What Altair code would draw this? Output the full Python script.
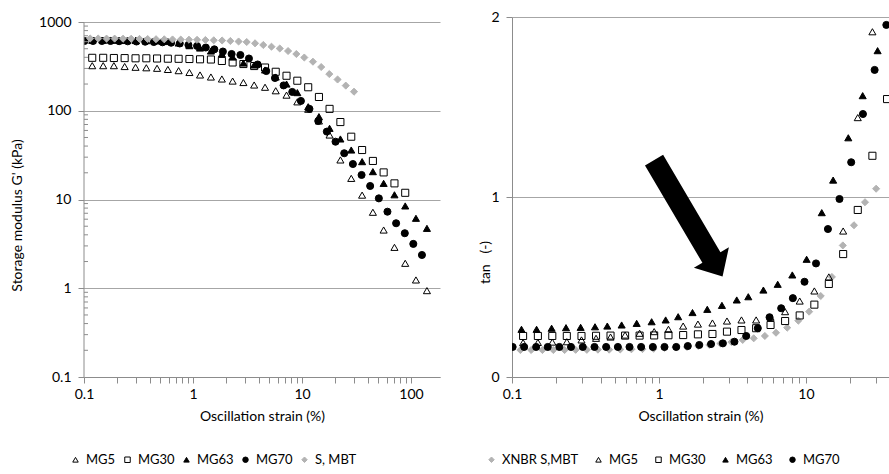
import altair as alt
import pandas as pd

FONT = "Lato"
GRID = "#a6a6a6"
AXIS = "#8c8c8c"
GRAY = "#b3b3b3"

# ---------------- data ----------------
# strain (%) sequences
strain_a = [0.119, 0.150, 0.188, 0.236, 0.297, 0.373, 0.468, 0.588, 0.738, 0.927,
            1.16, 1.46, 1.84, 2.31, 2.90, 3.64, 4.58, 5.74, 7.21, 9.06,
            11.4, 14.3, 17.9, 22.5, 28.3, 35.6, 44.7, 56.1, 70.5, 88.5, 111, 140]
strain_b = [0.101, 0.121, 0.146, 0.175, 0.210, 0.252, 0.303, 0.364, 0.437, 0.525,
            0.630, 0.756, 0.908, 1.09, 1.31, 1.57, 1.88, 2.26, 2.72, 3.26,
            3.92, 4.70, 5.65, 6.78, 8.14, 9.77, 11.7, 14.1, 16.9, 20.3,
            24.4, 29.3, 35.2, 42.2, 50.7, 60.8, 73.0, 87.7, 105, 126]
strain_c = [0.114, 0.135, 0.161, 0.191, 0.228, 0.271, 0.323, 0.384, 0.458, 0.545,
            0.649, 0.772, 0.919, 1.09, 1.30, 1.55, 1.85, 2.20, 2.62, 3.11,
            3.71, 4.41, 5.25, 6.25, 7.45, 8.87, 10.5, 12.6, 15.0, 17.8,
            21.2, 25.2, 30.0]
strain_d = [0.116, 0.147, 0.186, 0.233, 0.293, 0.367, 0.445, 0.557, 0.705, 0.891,
            1.11, 1.35, 1.69, 2.13, 2.68, 3.38, 4.05, 5.13, 6.42, 8.07,
            10.1, 12.8, 15.3, 19.4, 24.3, 30.7]

# storage modulus G' (kPa)
g_mg5 = [322, 322, 322, 315, 309, 305, 301, 292, 283, 270, 253, 240, 228, 216, 208, 195,
         184, 168, 150, 126, 104, 76.7, 53.3, 27.9, 17.3, 11.2, 7.18, 4.53, 2.89, 1.91, 1.24, 0.94]
g_mg30 = [395, 395, 393, 392, 390, 390, 388, 386, 385, 383, 380, 378, 364, 350, 336, 319,
          307, 275, 248, 218, 184, 143, 105, 74.6, 51, 36.1, 27.2, 20.2, 15.2, 11.9]
g_mg63 = [622, 622, 622, 619, 619, 616, 611, 603, 580, 541, 509, 471, 436, 403, 345, 328,
          288, 240, 200, 160, 111, 85.8, 63.4, 48.1, 36.1, 26.7, 20.6, 15.2, 11.3, 8.46, 6.14, 4.73]
g_mg70 = [611, 611, 611, 611, 608, 606, 603, 600, 595, 591, 584, 573, 551, 537, 516, 492,
          465, 436, 425, 388, 332, 280, 234, 193, 163, 129, 105, 76.7, 58.2, 44.8,
          33.2, 25.1, 18.9, 14.2, 10.3, 7.29, 5.40, 4.17, 3.16, 2.37]
g_smbt = [652, 652, 650, 650, 648, 648, 645, 643, 640, 638, 636, 634, 632, 630, 627, 622,
          619, 611, 603, 595, 575, 551, 527, 503, 471, 436, 398, 357, 311, 259, 225, 192, 164]

# loss factor tan (-)
tan_xnbr = [0.150, 0.150, 0.150, 0.150, 0.150, 0.151, 0.151, 0.152, 0.152, 0.153, 0.154, 0.155, 0.157,
            0.161, 0.164, 0.167, 0.172, 0.178, 0.186, 0.194, 0.206, 0.215, 0.228, 0.246, 0.274,
            0.313, 0.363, 0.450, 0.556, 0.731, 0.843, 0.971, 1.046]
tan_mg5 = [0.191, 0.192, 0.194, 0.196, 0.206, 0.215, 0.222, 0.233, 0.243, 0.252, 0.265, 0.283,
           0.294, 0.300, 0.311, 0.317, 0.317, 0.332, 0.363, 0.422, 0.478, 0.556, 0.811, 1.441, 1.918]
tan_mg30 = [0.228, 0.228, 0.228, 0.228, 0.228, 0.229, 0.230, 0.230, 0.230, 0.231, 0.232, 0.233,
            0.237, 0.239, 0.252, 0.261, 0.271, 0.289, 0.311, 0.342, 0.402, 0.517, 0.683, 0.928,
            1.229, 1.544]
tan_mg63 = [0.265, 0.265, 0.271, 0.274, 0.276, 0.279, 0.283, 0.289, 0.298, 0.307, 0.317, 0.335,
            0.358, 0.376, 0.398, 0.428, 0.446, 0.483, 0.515, 0.567, 0.654, 0.913, 1.094, 1.329,
            1.563, 1.813]
tan_mg70 = [0.167, 0.167, 0.167, 0.167, 0.167, 0.167, 0.167, 0.167, 0.167, 0.167, 0.167, 0.167,
            0.167, 0.167, 0.167, 0.172, 0.178, 0.183, 0.187, 0.196, 0.228, 0.271, 0.332, 0.382,
            0.438, 0.529, 0.631, 0.822, 0.989, 1.193, 1.461, 1.706, 1.956]

left_series = ["MG5", "MG30", "MG63", "MG70", "S, MBT"]
right_series = ["XNBR S,MBT", "MG5", "MG30", "MG63", "MG70"]

x_ticks_left = [0.1, 0.2, 0.3, 0.4, 0.5, 0.6, 0.7, 0.8, 0.9, 1, 2, 3, 4, 5, 6, 7, 8, 9,
                10, 20, 30, 40, 50, 60, 70, 80, 90, 100]
x_ticks_right = [0.1, 0.2, 0.3, 0.4, 0.5, 0.6, 0.7, 0.8, 0.9, 1, 2, 3, 4, 5, 6, 7, 8, 9,
                 10, 20, 30]
y_major_left = [0.1, 1, 10, 100, 1000]
y_minor_left = [0.2, 0.3, 0.4, 0.5, 0.6, 0.7, 0.8, 0.9, 2, 3, 4, 5, 6, 7, 8, 9,
                20, 30, 40, 50, 60, 70, 80, 90, 200, 300, 400, 500, 600, 700, 800, 900]
y_major_right = [0, 1, 2]

arrow_strain = [1.55]
arrow_tan = [0.894]

# ---------------- tables ----------------
rows = []
for name, xs, ys in [("MG5", strain_a, g_mg5), ("MG30", strain_a, g_mg30),
                     ("MG63", strain_a, g_mg63), ("MG70", strain_b, g_mg70),
                     ("S, MBT", strain_c, g_smbt)]:
    for x, y in zip(xs, ys):
        rows.append({"strain": x, "G": y, "series": name})
df_left = pd.DataFrame(rows)

rows = []
for name, xs, ys in [("XNBR S,MBT", strain_c, tan_xnbr), ("MG5", strain_a, tan_mg5),
                     ("MG30", strain_a, tan_mg30), ("MG63", strain_d, tan_mg63),
                     ("MG70", strain_b, tan_mg70)]:
    for x, y in zip(xs, ys):
        rows.append({"strain": x, "tan": y, "sample": name})
df_right = pd.DataFrame(rows)

df_minor = pd.DataFrame({"v": y_minor_left})
df_dom = pd.DataFrame({"lo": [y_major_left[0]], "hi": [y_major_left[-1]]})
df_arrow = pd.DataFrame({"strain": arrow_strain, "tan": arrow_tan})

shape_of = {"MG5": "triangle-up", "MG30": "square", "MG63": "triangle-up",
            "MG70": "circle", "S, MBT": "diamond", "XNBR S,MBT": "diamond"}
fill_of = {"MG5": "transparent", "MG30": "transparent", "MG63": "#000000",
           "MG70": "#000000", "S, MBT": GRAY, "XNBR S,MBT": GRAY}
stroke_of = {"MG5": "#000000", "MG30": "#000000", "MG63": "#000000",
             "MG70": "#000000", "S, MBT": GRAY, "XNBR S,MBT": GRAY}


def legend(x, y, pad):
    return alt.Legend(orient="none", legendX=x, legendY=y, direction="horizontal",
                      columns=5, title=None, symbolSize=30, symbolStrokeWidth=1,
                      labelFont=FONT, labelFontSize=13, labelColor="#000000",
                      labelOffset=4, columnPadding=pad, padding=0)


def series_enc(field, order, lg):
    return dict(
        shape=alt.Shape(f"{field}:N", scale=alt.Scale(domain=order, range=[shape_of[s] for s in order]), legend=lg),
        fill=alt.Fill(f"{field}:N", scale=alt.Scale(domain=order, range=[fill_of[s] for s in order]), legend=lg),
        stroke=alt.Stroke(f"{field}:N", scale=alt.Scale(domain=order, range=[stroke_of[s] for s in order]), legend=lg),
    )


LABEL_EXPR_L = "(datum.value == 0.1 || datum.value == 1 || datum.value == 10 || datum.value == 100) ? datum.label : ''"
LABEL_EXPR_R = "(datum.value == 0.1 || datum.value == 1 || datum.value == 10) ? datum.label : ''"

# ---------------- left panel ----------------
xs_left = alt.Scale(type="log", domain=[0.1, 184.5], nice=False)
ys_left = alt.Scale(type="log", domain=[0.1, 1138.7], nice=False)

x_axis_left = alt.Axis(values=x_ticks_left, format="~g", labelExpr=LABEL_EXPR_L, grid=False,
                       tickSize=6, tickColor=AXIS, domainColor=AXIS, labelPadding=4,
                       labelOverlap=False, labelFlush=False, title="Oscillation strain (%)",
                       titlePadding=8)
y_axis_left = alt.Axis(values=y_major_left, format="~g", grid=True, gridColor=GRID, domain=False,
                       tickSize=6, tickColor=AXIS, labelPadding=7, labelOverlap=False,
                       title="Storage modulus G' (kPa)", titleAngle=270, titleX=-67, titleY=198,
                       titleAlign="center", titleBaseline="middle")

pts_left = alt.Chart(df_left).mark_point(opacity=1, size=50, strokeWidth=1, clip=True).encode(
    x=alt.X("strain:Q", scale=xs_left, axis=x_axis_left),
    y=alt.Y("G:Q", scale=ys_left, axis=y_axis_left),
    **series_enc("series", left_series, legend(-15, 436, 5)),
)
minor_left = alt.Chart(df_minor).mark_rule(color=AXIS, strokeWidth=1).encode(
    x=alt.value(0), x2=alt.value(4), y=alt.Y("v:Q", scale=ys_left, axis=y_axis_left))
ydom_left = alt.Chart(df_dom).mark_rule(color=AXIS, strokeWidth=1).encode(
    x=alt.value(0), y=alt.Y("lo:Q", scale=ys_left, axis=y_axis_left), y2="hi:Q")

left = alt.layer(pts_left, minor_left, ydom_left).properties(width=356, height=360)

# ---------------- right panel ----------------
xs_right = alt.Scale(type="log", domain=[0.1, 36.7], nice=False)
ys_right = alt.Scale(domain=[0, 2], nice=False, zero=False)

x_axis_right = alt.Axis(values=x_ticks_right, format="~g", labelExpr=LABEL_EXPR_R, grid=False,
                        tickSize=6, tickColor=AXIS, domainColor=AXIS, labelPadding=4,
                        labelOverlap=False, labelFlush=False, title="Oscillation strain (%)",
                        titlePadding=8)
y_axis_right = alt.Axis(values=y_major_right, format="~g", grid=True, gridColor=GRID,
                        domainColor=AXIS, tickSize=6, tickColor=AXIS, labelPadding=7,
                        title="tan\u00a0\u00a0\u00a0(-)", titleAngle=270, titleX=-27, titleY=245,
                        titleAlign="center", titleBaseline="middle")

pts_right = alt.Chart(df_right).mark_point(opacity=1, size=50, strokeWidth=1, clip=True).encode(
    x=alt.X("strain:Q", scale=xs_right, axis=x_axis_right),
    y=alt.Y("tan:Q", scale=ys_right, axis=y_axis_right),
    **series_enc("sample", right_series, legend(-27, 436, 13)),
)

ARROW = ("M -0.656 -0.792 L -0.373 -0.958 L 0.523 0.564 L 0.655 0.486 "
         "L 0.556 0.944 L 0.108 0.808 L 0.241 0.730 Z")
arrow = alt.Chart(df_arrow).mark_point(shape=ARROW, size=16384, filled=True, color="#000000",
                                       opacity=1, strokeWidth=0).encode(
    x=alt.X("strain:Q", scale=xs_right, axis=x_axis_right),
    y=alt.Y("tan:Q", scale=ys_right, axis=y_axis_right))

right = alt.layer(pts_right, arrow).properties(width=377, height=360)

chart = alt.hconcat(left, right, spacing=72, bounds="flush").resolve_scale(
    shape="independent", fill="independent", stroke="independent"
).resolve_legend(shape="independent", fill="independent", stroke="independent").properties(
    padding={"left": 10, "top": 10, "right": 0, "bottom": 0}
).configure_view(stroke=None).configure_axis(
    labelFont=FONT, labelFontSize=14, labelColor="#000000",
    titleFont=FONT, titleFontSize=14, titleFontWeight="normal", titleColor="#000000"
)

chart.save("out.html", embed_options={"renderer": "svg", "actions": False})
